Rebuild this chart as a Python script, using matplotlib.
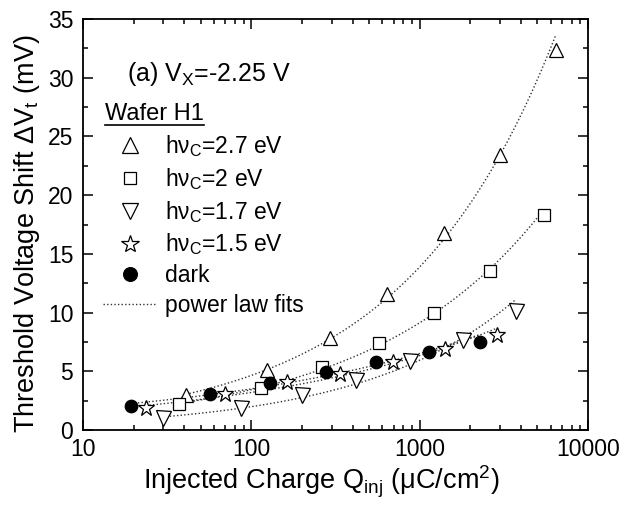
import numpy as np
import matplotlib
matplotlib.use("Agg")
import matplotlib.pyplot as plt
from matplotlib.lines import Line2D
from matplotlib.ticker import LogLocator, FixedLocator, NullFormatter, FuncFormatter

plt.rcParams['font.family'] = ['Liberation Sans', 'DejaVu Sans']
plt.rcParams['mathtext.fontset'] = 'custom'
plt.rcParams['mathtext.rm'] = 'Liberation Sans'
plt.rcParams['mathtext.it'] = 'Liberation Sans:italic'

# injected charge (uC/cm^2) and threshold shift (mV)
q_27 = [40.9, 124.5, 295, 641, 1397, 3007, 6412]
dv_27 = [2.98, 5.11, 7.83, 11.56, 16.76, 23.44, 32.36]

q_20 = [37.4, 113.7, 264, 572, 1219, 2618, 5483]
dv_20 = [2.19, 3.6, 5.4, 7.44, 10.0, 13.58, 18.3]

q_17 = [29.7, 87, 199, 419, 875, 1799, 3748]
dv_17 = [1.0, 1.9, 2.95, 4.26, 5.9, 7.7, 10.1]

q_15 = [23.6, 69.4, 161.8, 337, 697, 1410, 2871]
dv_15 = [1.85, 3.04, 4.06, 4.74, 5.8, 6.93, 8.07]

q_dark = [19.2, 56.9, 129.7, 276, 553, 1137, 2274]
dv_dark = [2.07, 3.04, 3.98, 4.9, 5.82, 6.65, 7.5]

labels = [r'h$\mathregular{\nu_C}$=2.7 eV', r'h$\mathregular{\nu_C}$=2 eV',
          r'h$\mathregular{\nu_C}$=1.7 eV', r'h$\mathregular{\nu_C}$=1.5 eV', 'dark']

FS = 16.5

fig = plt.figure(figsize=(6.24, 5.08), dpi=100)
ax = fig.add_axes([83/624, 1-430/508, 505/624, 411/508])

series = [
    (q_27, dv_27, dict(marker='^', ms=10.4, mfc='white')),
    (q_20, dv_20, dict(marker='s', ms=8.3, mfc='white')),
    (q_17, dv_17, dict(marker='v', ms=10.8, mfc='white')),
    (q_15, dv_15, dict(marker='*', ms=12.0, mfc='white')),
    (q_dark, dv_dark, dict(marker='o', ms=9.0, mfc='black')),
]

fit_style = dict(color='#333333', lw=1.0, ls=(0, (1, 1.6)))

# power law fits, done in log-log space
for q, dv, st in series:
    q = np.array(q)
    dv = np.array(dv)
    b, a = np.polyfit(np.log(q), np.log(dv), 1)
    qq = np.geomspace(q.min(), q.max(), 200)
    ax.plot(qq, np.exp(a) * qq**b, zorder=2, **fit_style)

handles = []
for (q, dv, st), lab in zip(series, labels):
    ax.plot(q, dv, ls='none', mec='black', mew=0.9, zorder=3, **st)
    handles.append(Line2D([], [], ls='none', mec='black', mew=0.9, label=lab, **st))
handles.append(Line2D([], [], label='power law fits', **fit_style))

ax.set_xscale('log')
ax.set_xlim(10, 10000)
ax.set_ylim(0, 35)

ax.xaxis.set_major_locator(FixedLocator([10, 100, 1000, 10000]))
ax.xaxis.set_major_formatter(FuncFormatter(lambda v, p: '%d' % v))
ax.xaxis.set_minor_locator(LogLocator(base=10, subs=np.arange(2, 10)))
ax.xaxis.set_minor_formatter(NullFormatter())
ax.set_yticks(np.arange(0, 36, 5))
ax.set_yticks(np.arange(2.5, 35, 5), minor=True)

ax.tick_params(which='both', direction='in', top=True, right=True,
               labelsize=FS, width=1.1)
ax.tick_params(axis='x', pad=6)
ax.tick_params(axis='y', pad=7)
ax.tick_params(which='major', length=7)
ax.tick_params(which='minor', length=3.5)
for s in ax.spines.values():
    s.set_linewidth(1.3)

ax.set_xlabel(r'Injected Charge Q$_\mathregular{inj}$ ($\mathregular{\mu}$C/cm$^\mathregular{2}$)',
              fontsize=19.5, labelpad=2)
ax.set_ylabel(r'Threshold Voltage Shift $\mathregular{\Delta}$V$_\mathregular{t}$ (mV)',
              fontsize=19.5, labelpad=4)
ax.xaxis.label.set_x(0.472)
ax.yaxis.label.set_y(0.478)

ax.text(0.087, 0.865, r'(a) V$_\mathregular{X}$=-2.25 V', transform=ax.transAxes,
        fontsize=FS + 1.5, va='center', ha='left')

# legend title, underlined by hand
ax.text(0.043, 0.768, 'Wafer H1', transform=ax.transAxes, fontsize=FS + 0.5,
        va='center', ha='left')
ax.plot([0.043, 0.24], [0.742, 0.742], transform=ax.transAxes, color='black',
        lw=1.2, clip_on=False)

ax.legend(handles=handles, loc='upper left', bbox_to_anchor=(0.04, 0.722),
          frameon=False, fontsize=FS, borderpad=0, borderaxespad=0,
          handlelength=2.3, handletextpad=0.4, labelspacing=0.3, markerscale=1.1)

fig.savefig('out.png', dpi=100)
